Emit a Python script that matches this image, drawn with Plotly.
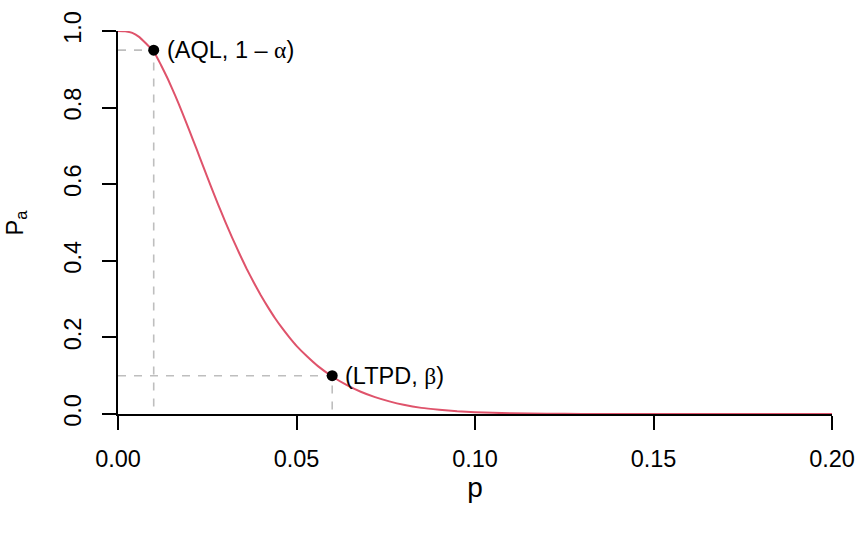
import plotly.graph_objects as go

# OC curve values
p_vals = [0.000, 0.002, 0.004, 0.006, 0.008, 0.010, 0.012, 0.014, 0.016, 0.018,
          0.020, 0.022, 0.024, 0.026, 0.028, 0.030, 0.032, 0.034, 0.036, 0.038,
          0.040, 0.042, 0.044, 0.046, 0.048, 0.050, 0.053, 0.056, 0.060, 0.064,
          0.068, 0.072, 0.076, 0.080, 0.085, 0.090, 0.095, 0.100, 0.110, 0.120,
          0.130, 0.140, 0.160, 0.180, 0.200]
pa_vals = [1.000, 0.999, 0.995, 0.984, 0.966, 0.947, 0.912, 0.874, 0.832, 0.787,
           0.740, 0.692, 0.643, 0.595, 0.548, 0.503, 0.460, 0.419, 0.380, 0.344,
           0.310, 0.279, 0.250, 0.224, 0.200, 0.178, 0.150, 0.125, 0.098, 0.076,
           0.058, 0.044, 0.033, 0.024, 0.016, 0.011, 0.007, 0.0045, 0.0018, 0.0007,
           0.0003, 0.0001, 0.0, 0.0, 0.0]

aql, one_minus_alpha = 0.01, 0.95
ltpd, beta = 0.06, 0.10
pt_x = [aql, ltpd]
pt_y = [one_minus_alpha, beta]

x_ticks = [0.00, 0.05, 0.10, 0.15, 0.20]
x_tick_labels = ["0.00", "0.05", "0.10", "0.15", "0.20"]
y_ticks = [0.0, 0.2, 0.4, 0.6, 0.8, 1.0]
y_tick_labels = ["0.0", "0.2", "0.4", "0.6", "0.8", "1.0"]

FONT = "Liberation Sans, Arial, Helvetica, sans-serif"
GREY = "#BEBEBE"
FS = 23.5

fig = go.Figure()

# dashed guide lines
for px, py in zip(pt_x, pt_y):
    fig.add_trace(go.Scatter(x=[0, px, px], y=[py, py, 0], mode="lines",
                             line=dict(color=GREY, width=1.6, dash="8px,8px"),
                             hoverinfo="skip", showlegend=False))

fig.add_trace(go.Scatter(x=p_vals, y=pa_vals, mode="lines",
                         line=dict(color="#DF536B", width=2, shape="spline", smoothing=0.4),
                         showlegend=False))

fig.add_trace(go.Scatter(x=pt_x, y=pt_y, mode="markers",
                         marker=dict(color="black", size=11),
                         showlegend=False))

greek = "<span style='font-family:Liberation Serif, DejaVu Serif, serif'>{}</span>"
labels = ["(AQL, 1 – " + greek.format("α") + ")", "(LTPD, " + greek.format("β") + ")"]
for px, py, txt in zip(pt_x, pt_y, labels):
    fig.add_annotation(x=px, y=py, text=txt, showarrow=False, xanchor="left",
                       yanchor="middle", xshift=11,
                       font=dict(family=FONT, size=FS, color="black"))

# y-axis title placed as rotated text left of the tick labels
fig.add_annotation(xref="paper", yref="paper", x=0, y=0.5, xshift=-102,
                   text="P<sub>a</sub>", textangle=-90, showarrow=False,
                   xanchor="center", yanchor="middle",
                   font=dict(family=FONT, size=FS, color="black"))

fig.update_layout(
    width=864, height=533,
    margin=dict(l=118, r=32, t=31, b=119, autoexpand=False),
    paper_bgcolor="white", plot_bgcolor="white",
    font=dict(family=FONT, size=FS, color="black"),
    xaxis=dict(range=[0, 0.2], tickvals=x_ticks, ticktext=x_tick_labels,
               showline=True, linecolor="black", linewidth=2, ticks="outside",
               ticklen=14, tickwidth=2, tickcolor="black", showgrid=False,
               zeroline=False, ticklabelstandoff=9, automargin=False,
               title=dict(text="p", standoff=6),
               tickfont=dict(size=FS)),
    yaxis=dict(range=[0, 1], tickvals=y_ticks, ticktext=y_tick_labels,
               showline=True, linecolor="black", linewidth=2, ticks="outside",
               ticklen=14, tickwidth=2, tickcolor="black", showgrid=False,
               zeroline=False, tickangle=-90, ticklabelstandoff=12, automargin=False,
               tickfont=dict(size=FS)),
)

# remove the page's default body margin so the figure sits at the window's corner
fig.write_html("out.html", config={"displayModeBar": False},
               post_script="document.body.style.margin='0';")
